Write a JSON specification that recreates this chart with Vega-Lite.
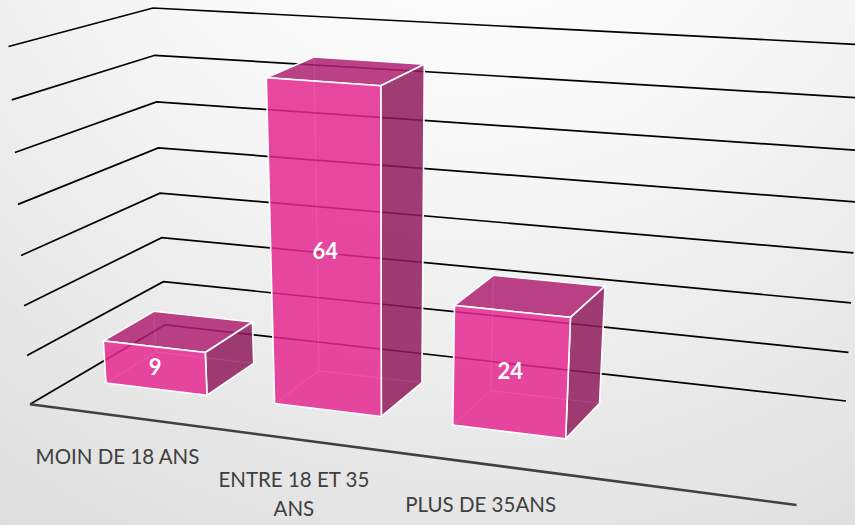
{
  "$schema": "https://vega.github.io/schema/vega-lite/v6.json",
  "width": 855,
  "height": 525,
  "padding": 0,
  "autosize": {"type": "none"},
  "background": "#ffffff",
  "view": {"stroke": null},
  "datasets": {
    "ages": [
      {"category": "MOIN DE 18 ANS", "value": 9},
      {"category": "ENTRE 18 ET 35\nANS", "value": 64},
      {"category": "PLUS DE 35ANS", "value": 24}
    ],
    "levels": [
      {"level": 0}, {"level": 10}, {"level": 20}, {"level": 30},
      {"level": 40}, {"level": 50}, {"level": 60}, {"level": 70}
    ]
  },
  "encoding": {
    "x": {"field": "px", "type": "quantitative", "axis": null, "scale": {"domain": [0, 855], "range": [0, 855], "nice": false, "zero": false}},
    "y": {"field": "py", "type": "quantitative", "axis": null, "scale": {"domain": [0, 525], "range": [0, 525], "nice": false, "zero": false}}
  },
  "layer": [
    {
      "data": {"values": [{"panel": "backdrop"}]},
      "transform": [
        {"calculate": "0", "as": "px"},
        {"calculate": "855", "as": "px2"},
        {"calculate": "0", "as": "py"},
        {"calculate": "525", "as": "py2"}
      ],
      "mark": {
        "type": "rect",
        "fill": {
          "gradient": "radial",
          "x1": 0.55, "y1": -0.05, "r1": 0,
          "x2": 0.55, "y2": -0.05, "r2": 1.15,
          "stops": [
            {"offset": 0, "color": "#ffffff"},
            {"offset": 0.35, "color": "#f8f8f8"},
            {"offset": 1, "color": "#d8d8d8"}
          ]
        }
      },
      "encoding": {
        "x2": {"field": "px2"},
        "y2": {"field": "py2"}
      }
    },
    {
      "data": {"name": "levels"},
      "transform": [
        {"calculate": "[0, 1, 2]", "as": "station"},
        {"flatten": ["station"]},
        {"calculate": "datum.level / 70", "as": "w"},
        {"calculate": "[30, 165, 846][datum.station]", "as": "bx"},
        {"calculate": "[404.3, 325, 401][datum.station]", "as": "by"},
        {"calculate": "[8.5, 153, 864][datum.station]", "as": "tx"},
        {"calculate": "[46.5, 8, 44.8][datum.station]", "as": "ty"},
        {"calculate": "(datum.bx + (datum.tx * 0.95 - datum.bx) * datum.w) / (1 - 0.05 * datum.w)", "as": "px"},
        {"calculate": "(datum.by + (datum.ty * 0.95 - datum.by) * datum.w) / (1 - 0.05 * datum.w)", "as": "py"}
      ],
      "mark": {"type": "line", "stroke": "#000000", "strokeWidth": 1.7, "clip": true},
      "encoding": {
        "detail": {"field": "level"},
        "order": {"field": "station"}
      }
    },
    {
      "data": {"values": [{"end": 0}, {"end": 1}]},
      "transform": [
        {"calculate": "30 + 766.5 * datum.end", "as": "px"},
        {"calculate": "404.3 + 100.7 * datum.end", "as": "py"}
      ],
      "mark": {"type": "line", "stroke": "#404040", "strokeWidth": 2.6},
      "encoding": {"order": {"field": "end"}}
    },
    {
      "data": {"name": "ages"},
      "transform": [
        {"window": [{"op": "row_number", "as": "rank"}]},
        {"calculate": "['floor', 'left', 'back', 'top', 'side', 'front']", "as": "face"},
        {"flatten": ["face"]},
        {"calculate": "[0, 1, 2, 3, 4]", "as": "corner"},
        {"flatten": ["corner"]},
        {"calculate": "[0, 1, 1, 0, 0][datum.corner]", "as": "a"},
        {"calculate": "[0, 0, 1, 1, 0][datum.corner]", "as": "b"},
        {"calculate": "datum.face === 'side' ? 1 : datum.face === 'left' ? 0 : datum.a", "as": "cu"},
        {"calculate": "datum.face === 'front' ? 0 : datum.face === 'back' ? 1 : (datum.face === 'top' || datum.face === 'floor') ? datum.b : datum.a", "as": "d"},
        {"calculate": "datum.face === 'top' ? 1 : datum.face === 'floor' ? 0 : datum.b", "as": "cw"},
        {"calculate": "(datum.rank - 1) * 0.383 + 0.232 * datum.cu", "as": "u"},
        {"calculate": "datum.value / 70 * datum.cw", "as": "w"},
        {"calculate": "1 - 0.07 * datum.u + 0.0415 * datum.d - 0.072 * datum.w", "as": "h"},
        {"calculate": "(106 + 421 * datum.u + 56.4 * datum.d - 28 * datum.w) / datum.h", "as": "px"},
        {"calculate": "(383 + 25.27 * datum.u - 16.4 * datum.d - 352.4 * datum.w) / datum.h", "as": "py"},
        {"calculate": "datum.category + '/' + datum.face", "as": "faceKey"}
      ],
      "encoding": {
        "detail": {"field": "faceKey"},
        "order": {"field": "corner"}
      },
      "layer": [
        {
          "transform": [{"filter": "datum.face === 'top'"}],
          "mark": {"type": "line", "fill": "#af2172", "fillOpacity": 0.85, "stroke": "#ffffff", "strokeWidth": 1.6}
        },
        {
          "transform": [{"filter": "datum.face === 'side'"}],
          "mark": {"type": "line", "fill": "#911b5d", "fillOpacity": 0.85, "stroke": "#ffffff", "strokeWidth": 1.6}
        },
        {
          "transform": [{"filter": "datum.face === 'front'"}],
          "mark": {"type": "line", "fill": "#e52891", "fillOpacity": 0.85, "stroke": "#ffffff", "strokeWidth": 1.6}
        },
        {
          "transform": [{"filter": "datum.face === 'floor' || datum.face === 'left' || datum.face === 'back'"}],
          "mark": {"type": "line", "stroke": "#ffffff", "strokeWidth": 1, "strokeOpacity": 0.05}
        }
      ]
    },
    {
      "data": {"name": "ages"},
      "transform": [
        {"window": [{"op": "row_number", "as": "rank"}]},
        {"calculate": "(datum.rank - 1) * 0.383 + 0.116", "as": "u"},
        {"calculate": "datum.value / 140", "as": "w"},
        {"calculate": "1 - 0.07 * datum.u - 0.072 * datum.w", "as": "h"},
        {"calculate": "(106 + 421 * datum.u - 28 * datum.w) / datum.h", "as": "px"},
        {"calculate": "(383 + 25.27 * datum.u - 352.4 * datum.w) / datum.h", "as": "py"}
      ],
      "mark": {"type": "text", "font": "Lato", "fontSize": 22, "fontWeight": "bold", "color": "#ffffff", "align": "center", "baseline": "middle"},
      "encoding": {"text": {"field": "value", "type": "quantitative"}}
    },
    {
      "data": {"name": "ages"},
      "transform": [
        {"window": [{"op": "row_number", "as": "rank"}]},
        {"calculate": "(datum.rank - 1) * 0.383 + 0.116", "as": "u"},
        {"calculate": "-0.8", "as": "d"},
        {"calculate": "-0.125", "as": "w"},
        {"calculate": "1 - 0.07 * datum.u + 0.0415 * datum.d - 0.072 * datum.w", "as": "h"},
        {"calculate": "(106 + 425.1 * datum.u + 56.4 * datum.d - 28 * datum.w) / datum.h", "as": "px"},
        {"calculate": "(383 + 25.27 * datum.u - 16.4 * datum.d - 352.4 * datum.w) / datum.h", "as": "py"}
      ],
      "mark": {"type": "text", "font": "Lato", "fontSize": 20.5, "color": "#404040", "align": "center", "baseline": "middle", "lineBreak": "\n", "lineHeight": 29},
      "encoding": {"text": {"field": "category", "type": "nominal"}}
    }
  ]
}
